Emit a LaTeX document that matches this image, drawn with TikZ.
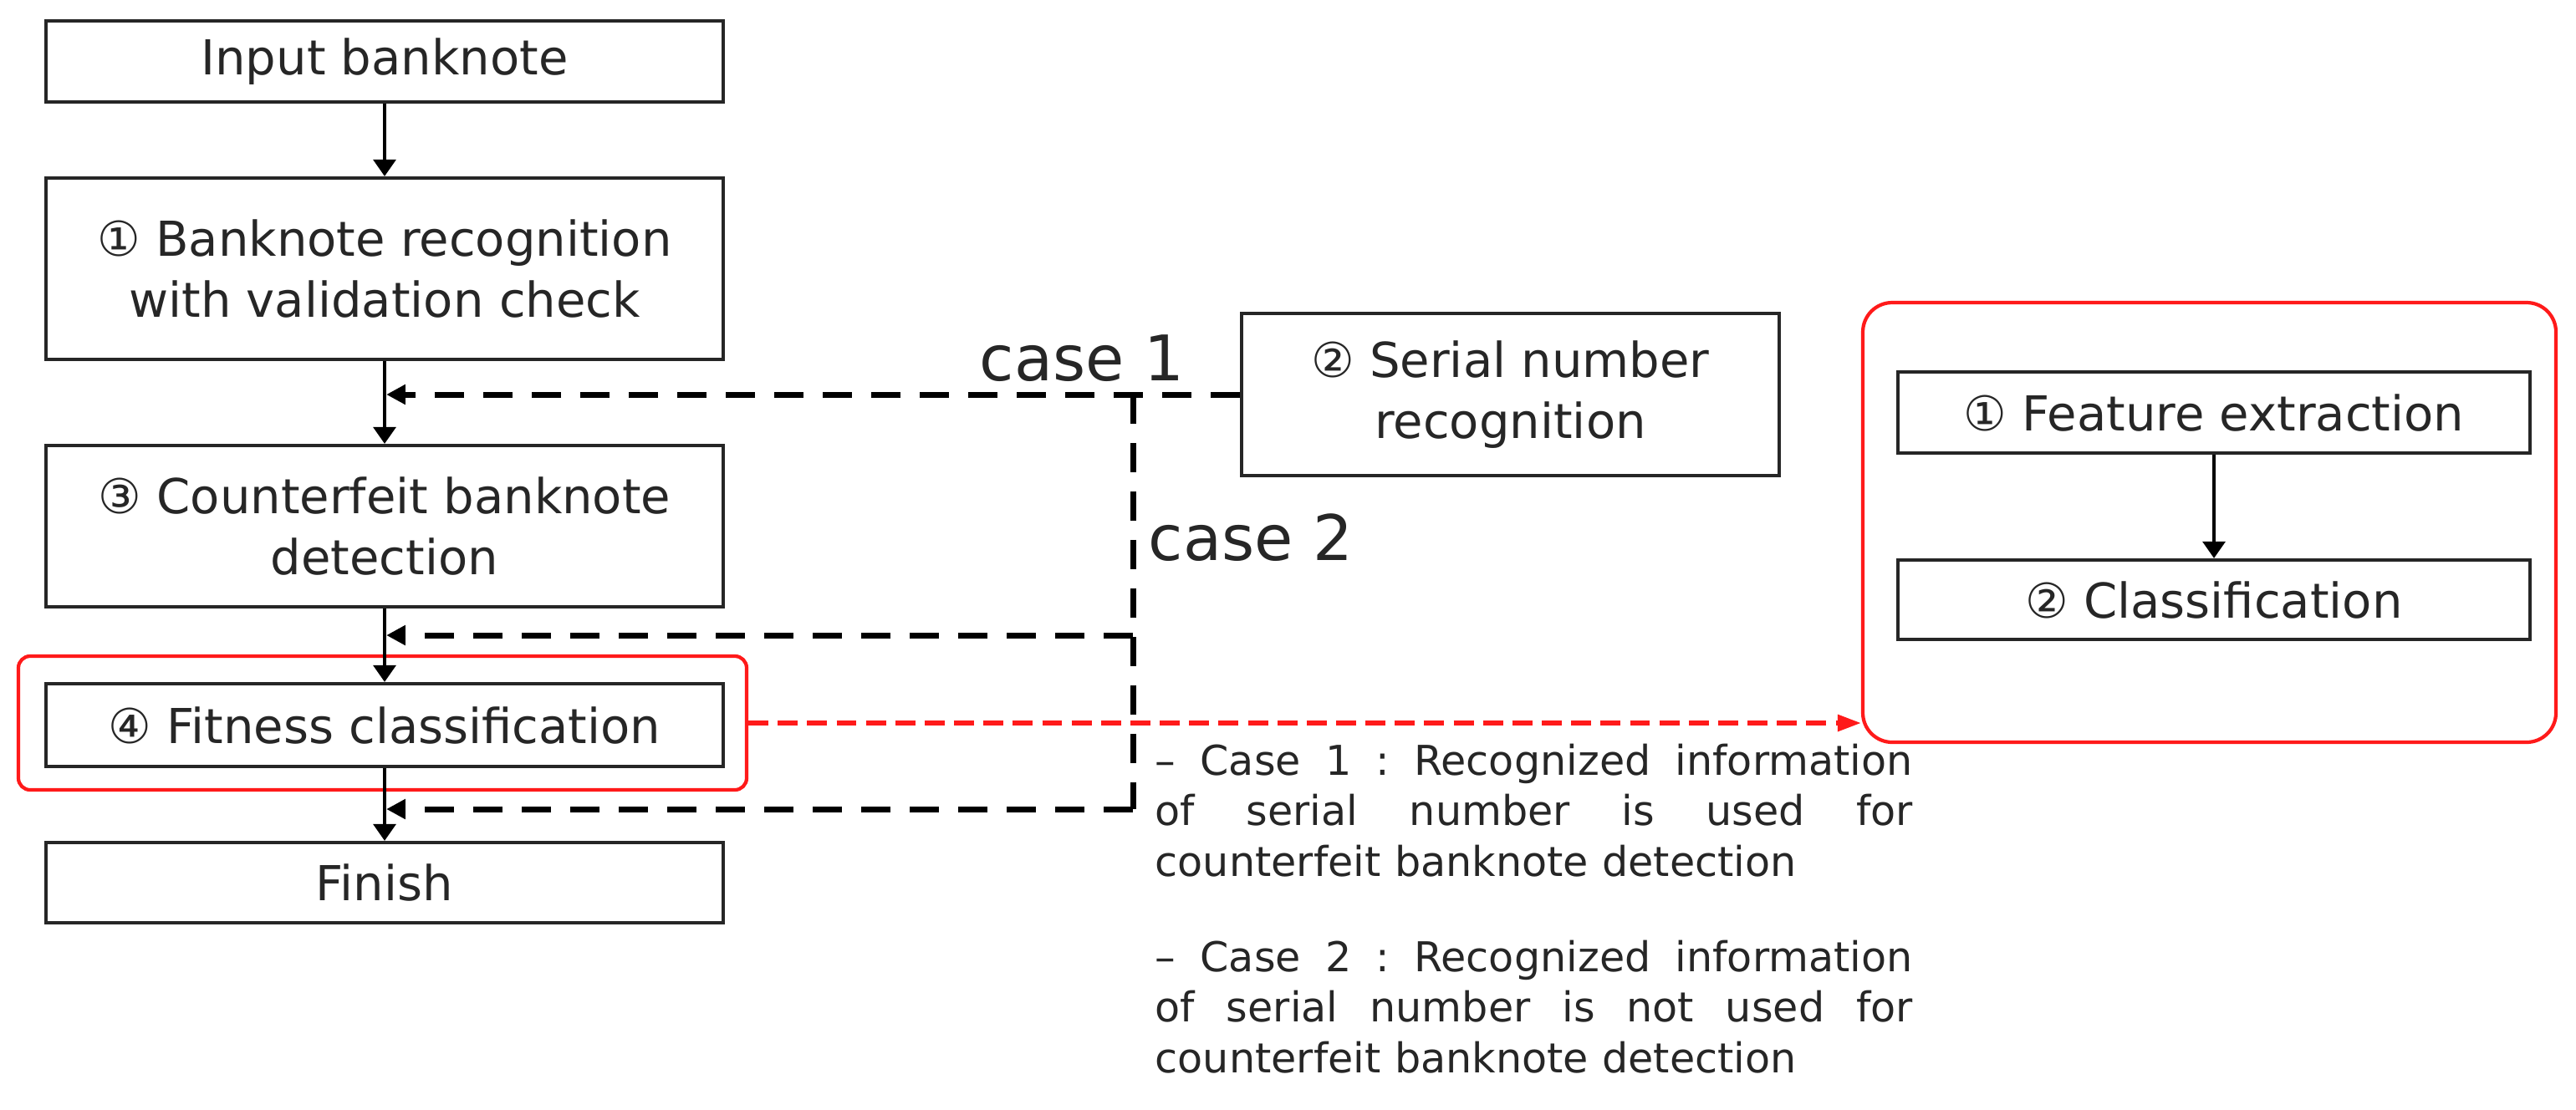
\documentclass[tikz,border=0pt]{standalone}
\usepackage{fontspec}
\setmainfont{DejaVu Sans}
\usetikzlibrary{arrows.meta,positioning}
\definecolor{cFrame}{HTML}{FF1A1A}
\definecolor{cInk}{HTML}{262626}
\tikzset{
  stage/.style={rectangle,draw=black!85,line width=1.2pt,inner sep=0pt,align=center,text=cInk,font=\fontsize{16.4}{20.8}\selectfont},
  redframe/.style={rectangle,draw=cFrame,line width=1.2pt,rounded corners=#1,inner sep=0pt},
  redframe/.default=4pt,
  flow/.style={-{Triangle[length=5.7pt,width=7.6pt]},line width=1.2pt,black},
  cased/.style={line width=2pt,black,dash pattern=on 10pt off 6.5pt},
  casearr/.style={cased,-{Triangle[length=6.5pt,width=6.5pt]},shorten >=0.6pt},
  fitarr/.style={-{Triangle[length=8pt,width=5.5pt]},line width=1.5pt,cFrame,dash pattern=on 6.8pt off 3.2pt},
  caselbl/.style={inner sep=0pt,text=cInk,font=\fontsize{21.4}{24}\selectfont},
  note/.style={inner sep=0pt,text=cInk,align=left,text width=9.06cm,font=\fontsize{14}{17.2}\selectfont},
}

\begin{document}
\begin{tikzpicture}
  \useasboundingbox (0,0) rectangle (30.81,-13.27);
  % ---------------- main column
  \node[redframe,minimum width=8.71cm,minimum height=1.60cm] (fitframe) at (4.575,-8.65) {};
  \node[stage,minimum width=8.1cm,minimum height=0.97cm] (inbox) at (4.60,-0.735) {Input banknote};
  \node[stage,minimum width=8.1cm,minimum height=2.17cm] (recog) at (4.60,-3.215) {① Banknote recognition\\with validation check};
  \node[stage,minimum width=8.1cm,minimum height=1.93cm] (counter) at (4.60,-6.295) {③ Counterfeit banknote\\detection};
  \node[stage,minimum width=8.1cm,minimum height=0.99cm] (fitness) at (4.60,-8.675) {④ Fitness classification};
  \node[stage,minimum width=8.1cm,minimum height=0.96cm] (finish) at (4.60,-10.56) {Finish};
  \draw[flow] (inbox) -- (recog);
  \draw[flow] (recog) -- (counter);
  \draw[flow] (counter) -- (fitness);
  \draw[flow] (fitness) -- (finish);
  % ---------------- serial number branch
  \node[stage,minimum width=6.43cm,minimum height=1.94cm] (serial) at (18.065,-4.72) {② Serial number\\recognition};
  \node[caselbl,anchor=base east] (case1) at (14.17,-4.55) {case 1};
  \node[caselbl,anchor=base west] (case2) at (13.73,-6.70) {case 2};
  \coordinate (j1) at (recog.south |- serial.west);
  \coordinate (vtop) at (13.55,-4.72);
  \coordinate (vmid) at (13.55,-7.60);
  \coordinate (vbot) at (13.55,-9.68);
  \coordinate (j2) at (4.60,-7.60);
  \coordinate (j3) at (4.60,-9.68);
  \draw[casearr] (serial.west) -- (j1);
  \draw[cased] (vtop) -- (vbot);
  \draw[casearr] (vmid) -- (j2);
  \draw[casearr] (vbot) -- (j3);
  % ---------------- fitness classification detail
  \node[redframe=10pt,minimum width=8.29cm,minimum height=5.26cm] (subframe) at (26.425,-6.25) {};
  \node[stage,minimum width=7.56cm,minimum height=0.97cm] (feature) at (26.48,-4.935) {① Feature extraction};
  \node[stage,minimum width=7.56cm,minimum height=0.95cm] (classif) at (26.48,-7.175) {② Classification};
  \draw[flow] (feature) -- (classif);
  \draw[fitarr] (fitframe.east) -- (subframe.west |- fitframe.east);
  % ---------------- notes
  \node[note,anchor=north west] (note1) at (13.81,-8.89) {\leavevmode\hbox to 9.06cm{–\hfill Case\hfill 1\hfill :\hfill Recognized\hfill information}\\\leavevmode\hbox to 9.06cm{of\hfill serial\hfill number\hfill is\hfill used\hfill for}\\counterfeit banknote detection};
  \node[note,anchor=north west] (note2) at (13.81,-11.24) {\leavevmode\hbox to 9.06cm{–\hfill Case\hfill 2\hfill :\hfill Recognized\hfill information}\\\leavevmode\hbox to 9.06cm{of\hfill serial\hfill number\hfill is\hfill not\hfill used\hfill for}\\counterfeit banknote detection};
\end{tikzpicture}
\end{document}
